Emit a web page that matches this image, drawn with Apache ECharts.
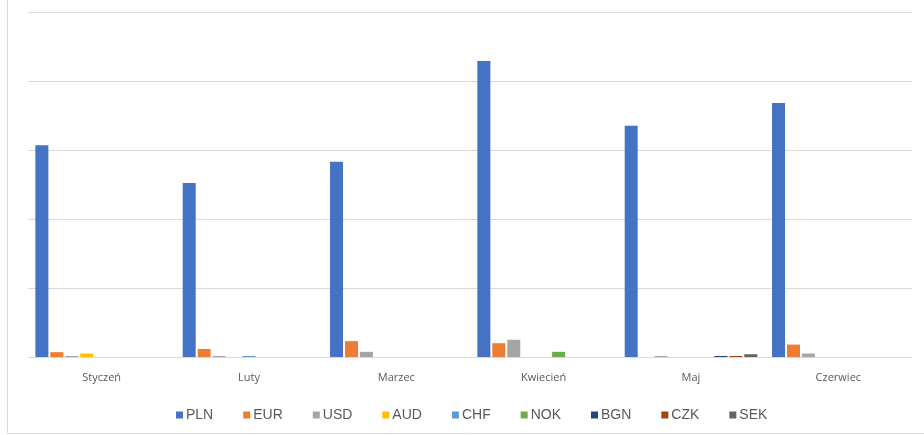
<!DOCTYPE html>
<html>
<head>
<meta charset="utf-8">
<script src="https://cdn.jsdelivr.net/npm/echarts@6/dist/echarts.min.js"></script>
<style>
html,body{margin:0;padding:0;background:#fff;}
#chart{width:924px;height:435px;}
</style>
</head>
<body>
<div id="chart"></div>
<script>
const categories = ['Styczeń', 'Luty', 'Marzec', 'Kwiecień', 'Maj', 'Czerwiec'];
const seriesNames = ['PLN', 'EUR', 'USD', 'AUD', 'CHF', 'NOK', 'BGN', 'CZK', 'SEK'];
const PLN = [307, 252, 283, 429, 335, 368];
const EUR = [7, 11.6, 23, 20, 0, 18];
const USD = [1.5, 1.5, 7.5, 25, 1.5, 5];
const AUD = [5, 0, 0, 0, 0, 0];
const CHF = [0, 1.5, 0, 0, 0, 0];
const NOK = [0, 0, 0, 7.5, 0, 0];
const BGN = [0, 0, 0, 0, 1.5, 0];
const CZK = [0, 0, 0, 0, 1.5, 0];
const SEK = [0, 0, 0, 0, 4, 0];
const seriesValues = [PLN, EUR, USD, AUD, CHF, NOK, BGN, CZK, SEK];
const colors = ['#4472C4', '#ED7D31', '#A5A5A5', '#FFC000', '#5B9BD5', '#70AD47', '#264478', '#9E480E', '#636363'];

const chart = echarts.init(document.getElementById('chart'), null, {renderer: 'canvas'});
chart.setOption({
  animation: false,
  color: colors,
  graphic: [{
    type: 'polyline',
    shape: {points: [[7.5, 0], [7.5, 433.5], [924, 433.5]]},
    style: {stroke: '#d9d9d9', lineWidth: 1, fill: null}
  }],
  grid: {left: 28, right: 12, top: 12, bottom: 78},
  legend: {
    data: seriesNames,
    left: 171,
    top: 403,
    itemWidth: 7,
    itemHeight: 7,
    itemGap: 30,
    icon: 'rect',
    textStyle: {fontFamily: 'Liberation Sans, Arial', fontSize: 14, color: '#595959', padding: [0, 0, 0, -2]}
  },
  xAxis: {
    type: 'category',
    data: categories,
    axisLine: {lineStyle: {color: '#d9d9d9'}},
    axisTick: {show: false},
    axisLabel: {fontFamily: 'Open Sans', fontSize: 11, color: '#595959', margin: 15}
  },
  yAxis: {
    type: 'value',
    min: 0,
    max: 500,
    interval: 100,
    axisLabel: {show: false},
    axisLine: {show: false},
    axisTick: {show: false},
    splitLine: {lineStyle: {color: '#d9d9d9'}}
  },
  series: seriesNames.map((name, i) => ({
    name: name,
    type: 'bar',
    data: seriesValues[i],
    barWidth: 13,
    barGap: '15%'
  }))
});
</script>
</body>
</html>
